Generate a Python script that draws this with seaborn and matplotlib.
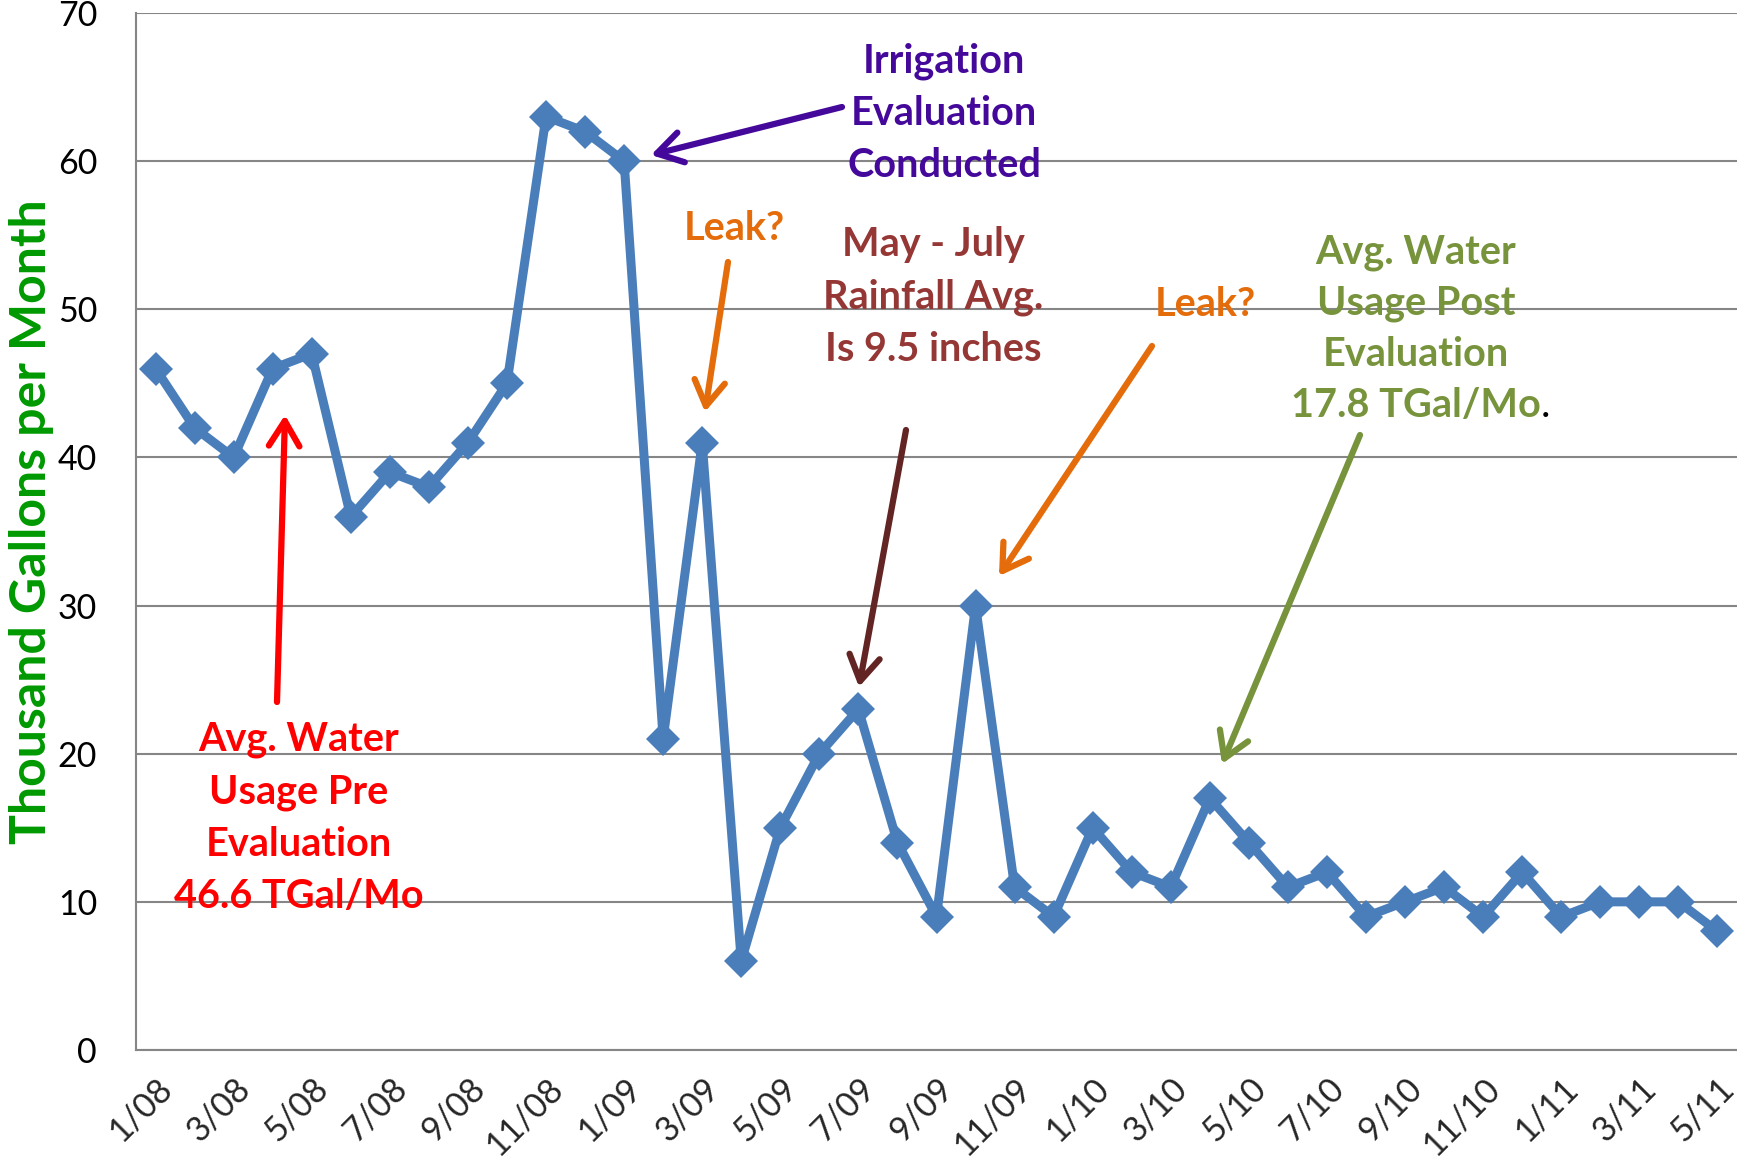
import matplotlib
matplotlib.use("Agg")
import matplotlib.pyplot as plt
import matplotlib.transforms as mtransforms
import seaborn as sns
import numpy as np
import pandas as pd

months = ["1/08","2/08","3/08","4/08","5/08","6/08","7/08","8/08","9/08","10/08","11/08","12/08",
          "1/09","2/09","3/09","4/09","5/09","6/09","7/09","8/09","9/09","10/09","11/09","12/09",
          "1/10","2/10","3/10","4/10","5/10","6/10","7/10","8/10","9/10","10/10","11/10","12/10",
          "1/11","2/11","3/11","4/11","5/11"]
usage = [46, 42, 40, 46, 47, 36, 39, 38, 41, 45, 63, 62,
         60, 21, 41, 6, 15, 20, 23, 14, 9, 30, 11, 9,
         15, 12, 11, 17, 14, 11, 12, 9, 10, 11, 9, 12,
         9, 10, 10, 10, 8]
y_ticks = [0, 10, 20, 30, 40, 50, 60, 70]
y_label = "Thousand Gallons per Month"

df = pd.DataFrame({"idx": np.arange(len(months)), "usage": usage})

sns.set_theme(style="white")
plt.rcParams["font.family"] = ["Lato", "DejaVu Sans"]

W, H = 1737, 1164
fig = plt.figure(figsize=(W / 100, H / 100), dpi=100)
ax = fig.add_axes([136 / W, 1 - 1050 / H, 1 - 136 / W, (1050 - 13) / H])

def fx(x):
    return x / W

def fy(y):
    return 1 - y / H

grid_c = "#868686"
sns.lineplot(data=df, x="idx", y="usage", ax=ax, color="#4A7EBB", linewidth=6.5,
             marker="D", markersize=17, markeredgewidth=0, zorder=3)

ax.set_xlim(-0.5, len(months) - 0.5)
ax.set_ylim(0, 70)
ax.set_yticks(y_ticks)
ax.set_yticklabels([str(v) for v in y_ticks], fontsize=24.5, color="black")
ax.yaxis.grid(True, color=grid_c, linewidth=1.5)
ax.set_axisbelow(True)

# major ticks between categories, labels on every other category
ax.set_xticks(np.arange(-0.5, len(months), 1.0))
ax.set_xticklabels([])
ax.set_xticks(np.arange(0, len(months), 2), minor=True)
ax.set_xticklabels(months[::2], minor=True, fontsize=24.5, rotation=45,
                   ha="right", va="top", rotation_mode="anchor")
shift = mtransforms.ScaledTranslation(4 / 100, 0, fig.dpi_scale_trans)
for lab in ax.get_xticklabels(minor=True):
    lab.set_transform(lab.get_transform() + shift)
ax.tick_params(axis="x", which="major", length=12, width=1.5, color=grid_c, direction="out")
ax.tick_params(axis="x", which="minor", length=0, pad=16)
ax.tick_params(axis="y", length=11, width=1.5, color=grid_c, direction="out", pad=17)

for s in ["top", "right"]:
    ax.spines[s].set_visible(False)
for s in ["left", "bottom"]:
    ax.spines[s].set_color(grid_c)
    ax.spines[s].set_linewidth(1.5)

ax.set_xlabel("")
ax.set_ylabel("")
fig.text(fx(32), fy(522), y_label, rotation=90, ha="center", va="center",
         fontsize=36, fontweight="bold", color="#009900")

def note(text, cx, cy, color, size=28.5, ls=1.5):
    return fig.text(fx(cx), fy(cy), text, ha="center", va="center", fontsize=size,
                    fontweight="bold", color=color, linespacing=ls)

def arrow(x0, y0, x1, y1, color):
    ax.annotate("", xy=(fx(x1), fy(y1)), xycoords="figure fraction",
                xytext=(fx(x0), fy(y0)), textcoords="figure fraction",
                arrowprops=dict(arrowstyle="->,head_length=0.9,head_width=0.55",
                                lw=4.5, color=color, shrinkA=0, shrinkB=0,
                                mutation_scale=20), zorder=5)

purple = "#44089A"
orange = "#E46C0A"
brown = "#953735"
dbrown = "#632523"
olive = "#77933C"
red = "#FF0000"

note("Irrigation\nEvaluation\nConducted", 944, 113, purple)
arrow(842, 107, 651, 155, purple)

note("Leak?", 734, 229, orange)
arrow(728, 262, 705, 412, orange)

note("May - July\nRainfall Avg.\nIs 9.5 inches", 933, 297, brown)
arrow(906, 430, 859, 687, dbrown)

note("Leak?", 1205, 304, orange)
arrow(1152, 346, 999, 576, orange)

g = note("Avg. Water\nUsage Post\nEvaluation\n17.8 TGal/Mo", 1416, 329, olive, ls=1.46)
ax.annotate(".", xy=(1, 0), xycoords=g, ha="left", va="bottom", fontsize=28.5, color="black")
arrow(1360, 435, 1222, 764, olive)

note("Avg. Water\nUsage Pre\nEvaluation\n46.6 TGal/Mo", 299, 818, red)
arrow(277, 702, 285, 415, red)

fig.savefig("out.png", dpi=100)
